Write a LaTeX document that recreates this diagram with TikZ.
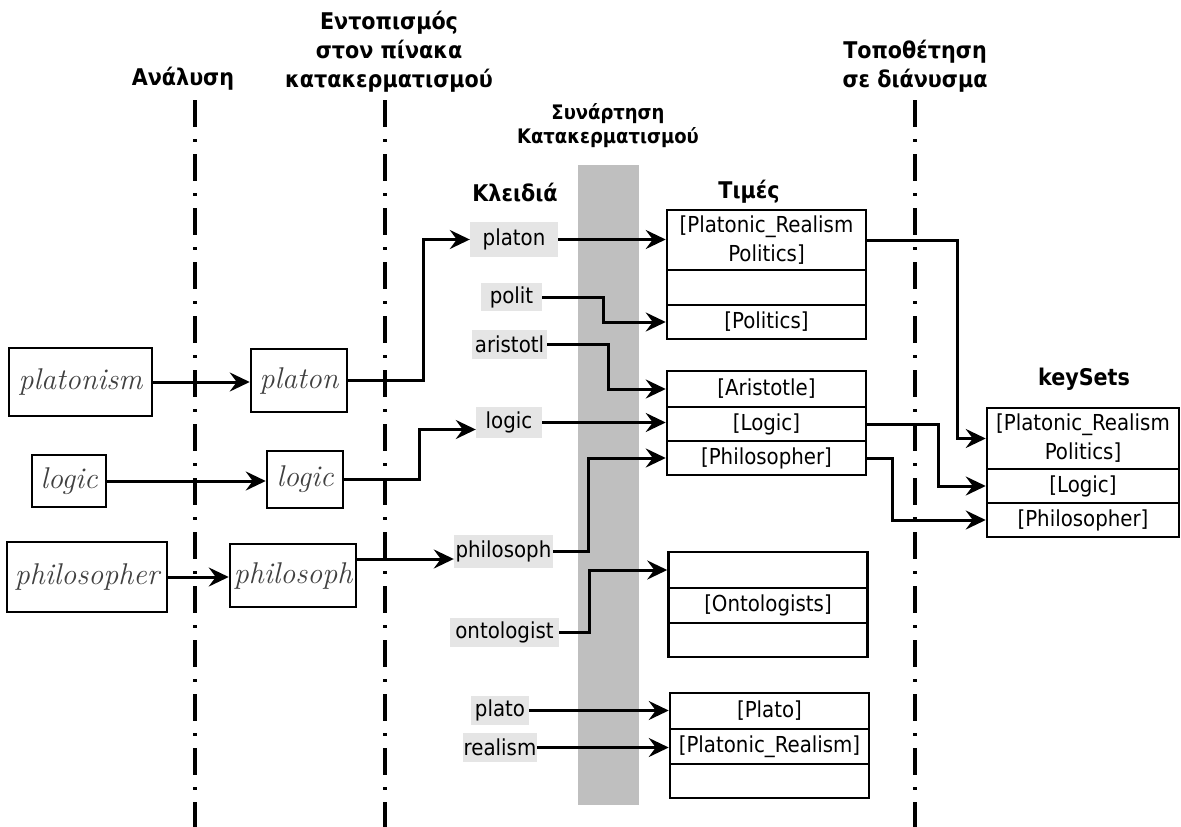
\documentclass[tikz,border=0pt]{standalone}
\usepackage{fontspec}
\newfontfamily\tahoma{DejaVu Sans Condensed}
\usetikzlibrary{arrows.meta,positioning}

\begin{document}
\begin{tikzpicture}[x=1pt,y=-1pt,
  hand/.style={draw, line width=2.5pt, inner sep=0pt, font=\itshape\fontsize{30}{30}\selectfont, text=black!75},
  key/.style={fill=black!10, inner sep=0pt, font=\tahoma\fontsize{22}{26}\selectfont},
  cell/.style={draw, line width=2.5pt, inner sep=0pt, minimum width=199pt, align=center, font=\tahoma\fontsize{22}{29}\selectfont},
  conn/.style={-{Stealth[length=20pt,width=19pt,inset=7pt]}, line width=3pt},
  divider/.style={line width=4.5pt, dash pattern=on 27pt off 12pt on 3pt off 12pt},
  head/.style={inner sep=0pt, align=center, font=\tahoma\bfseries\fontsize{23}{29}\selectfont}
]
\useasboundingbox (0,0) rectangle (1181,827);

% hash function band
\fill[black!25] (578,165) rectangle (639,805);

% stage dividers
\draw[divider] (195,100) -- (195,827);
\draw[divider] (385,100) -- (385,827);
\draw[divider] (915,100) -- (915,827);

% headers
\node[head, anchor=base] (hanal) at (183,85) {Ανάλυση};
\node[head, anchor=north] (hloc) at (389,10.5) {Εντοπισμός\\στον πίνακα\\κατακερματισμού};
\node[head, anchor=north, font=\tahoma\bfseries\fontsize{20}{24}\selectfont] (hhash) at (608,103) {Συνάρτηση\\Κατακερματισμού};
\node[head, anchor=base] (hkeys) at (515,201) {Κλειδιά};
\node[head, anchor=base] (hvals) at (749,198) {Τιμές};
\node[head, anchor=north] (hvec) at (915,39.5) {Τοποθέτηση\\σε διάνυσμα};
\node[head, anchor=base] (hsets) at (1084,385) {keySets};

% input words
\node[hand, minimum width=143pt, minimum height=68pt] (wplatonism) at (80.5,382) {platonism};
\node[hand, minimum width=74pt, minimum height=52pt] (wlogic) at (69,481) {logic};
\node[hand, minimum width=160pt, minimum height=70pt] (wphilosopher) at (87,577) {philosopher};

% stems
\node[hand, minimum width=96pt, minimum height=63pt] (splaton) at (299,380.5) {platon};
\node[hand, minimum width=76pt, minimum height=57pt] (slogic) at (305,479.5) {logic};
\node[hand, minimum width=126pt, minimum height=63pt] (sphilosoph) at (293,575.5) {philosoph};

% keys
\node[key, minimum width=88pt, minimum height=35pt] (kplaton) at (514,239.5) {platon};
\node[key, minimum width=61pt, minimum height=28pt] (kpolit) at (511.5,297) {polit};
\node[key, minimum width=75pt, minimum height=29pt] (karistotl) at (509.5,344.5) {aristotl};
\node[key, minimum width=66pt, minimum height=31pt] (klogic) at (509,422.5) {logic};
\node[key, minimum width=99pt, minimum height=33pt] (kphilosoph) at (503.5,551.5) {philosoph};
\node[key, minimum width=109pt, minimum height=29pt] (kontologist) at (504.5,632.5) {ontologist};
\node[key, minimum width=58pt, minimum height=29pt] (kplato) at (500,710.5) {plato};
\node[key, minimum width=74pt, minimum height=29pt] (krealism) at (500,747.5) {realism};

% value buckets
\node[cell, minimum height=60pt] (v1a) at (766.5,240) {[Platonic\_Realism\\Politics]};
\node[cell, minimum height=35pt] (v1b) at (766.5,287.5) {};
\node[cell, minimum height=34pt] (v1c) at (766.5,322) {[Politics]};
\node[cell, minimum height=36pt] (v2a) at (766.5,389) {[Aristotle]};
\node[cell, minimum height=34pt] (v2b) at (766.5,424) {[Logic]};
\node[cell, minimum height=34pt] (v2c) at (766.5,458) {[Philosopher]};
\node[cell, minimum height=36pt] (v3a) at (768,570) {};
\node[cell, minimum height=35pt] (v3b) at (768,605.5) {[Ontologists]};
\node[cell, minimum height=34pt] (v3c) at (768,640) {};
\node[cell, minimum height=36pt] (v4a) at (769.5,711) {[Plato]};
\node[cell, minimum height=35pt] (v4b) at (769.5,746.5) {[Platonic\_Realism]};
\node[cell, minimum height=34pt] (v4c) at (769.5,781) {};

% keySets vector
\node[cell, minimum width=192pt, minimum height=61pt] (set1) at (1083,438.5) {[Platonic\_Realism\\Politics]};
\node[cell, minimum width=192pt, minimum height=34pt] (set2) at (1083,486) {[Logic]};
\node[cell, minimum width=192pt, minimum height=34pt] (set3) at (1083,520) {[Philosopher]};

% analysis
\draw[conn] (wplatonism.east) -- (splaton.west |- wplatonism.east);
\draw[conn] (wlogic.east) -- (slogic.west |- wlogic.east);
\draw[conn] (wphilosopher.east) -- (sphilosoph.west |- wphilosopher.east);

% lookup
\draw[conn] (splaton.east) -- ++(75,0) |- (kplaton.west);
\draw[conn] (slogic.east) -- ++(75,0) |- ([yshift=-7pt]klogic.west);
\draw[conn] ([yshift=16.5pt]sphilosoph.east) -- ([yshift=16.5pt]sphilosoph.east -| kphilosoph.west);

% hashing
\draw[conn] (kplaton.east) -- (v1a.west |- kplaton.east);
\draw[conn] (kpolit.east) -- ++(61,0) |- (v1c.west);
\draw[conn] (karistotl.east) -- ++(61,0) |- (v2a.west);
\draw[conn] (klogic.east) -- (v2b.west |- klogic.east);
\draw[conn] (kphilosoph.east) -- ++(35,0) |- (v2c.west);
\draw[conn] (kontologist.east) -- ++(30,0) |- (v3a.west);
\draw[conn] (kplato.east) -- (v4a.west |- kplato.east);
\draw[conn] (krealism.east) -- (v4b.west |- krealism.east);

% placement into vector
\draw[conn] (v1a.east) -- ++(90,0) |- (set1.west);
\draw[conn] (v2b.east) -- ++(71,0) |- (set2.west);
\draw[conn] (v2c.east) -- ++(25,0) |- (set3.west);
\end{tikzpicture}
\end{document}
